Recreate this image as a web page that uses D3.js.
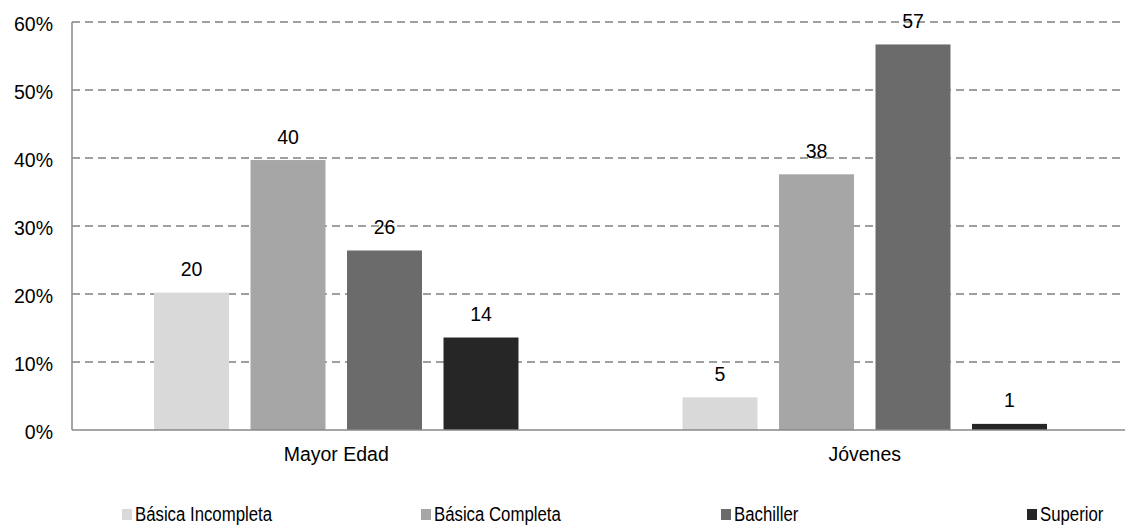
<!DOCTYPE html>
<html><head><meta charset="utf-8">
<script src="https://cdn.jsdelivr.net/npm/d3@7"></script>
<style>body{margin:0;background:#fff}svg{display:block}text{font-family:"Liberation Sans",Arial,sans-serif}</style>
</head><body><svg id="c" width="1125" height="526"></svg>
<script>
const categories = ["Mayor Edad", "Jóvenes"];
const series = ["Básica Incompleta", "Básica Completa", "Bachiller", "Superior"];
const values = {
  "Básica Incompleta": [20.2, 4.8],
  "Básica Completa": [39.7, 37.6],
  "Bachiller": [26.4, 56.7],
  "Superior": [13.6, 0.9]
};
const labels = {
  "Básica Incompleta": ["20", "5"],
  "Básica Completa": ["40", "38"],
  "Bachiller": ["26", "57"],
  "Superior": ["14", "1"]
};
const yTicks = [0, 10, 20, 30, 40, 50, 60];
const colors = ["#d9d9d9", "#a6a6a6", "#6b6b6b", "#262626"];

const FS = 19.5;
const svg = d3.select("#c");
const mLeft = 72, mRight = 1129, mTop = 22, mBottom = 430;
const y = d3.scaleLinear().domain([0, 60]).range([mBottom, mTop]);
const x0 = d3.scaleBand().domain(categories).range([mLeft, mRight]).padding(0);
const x1 = d3.scaleBand().domain(series).range([0, x0.bandwidth()]).paddingInner(0.223).paddingOuter(0.85);
const color = d3.scaleOrdinal().domain(series).range(colors);

// gridlines
svg.append("g").selectAll("line").data(yTicks.filter(d => d > 0)).join("line")
  .attr("x1", mLeft).attr("x2", mRight)
  .attr("y1", d => y(d)).attr("y2", d => y(d))
  .attr("stroke", "#808080").attr("stroke-width", 1.4).attr("stroke-dasharray", "8,5");

// y tick labels
svg.append("g").selectAll("text").data(yTicks).join("text")
  .attr("x", 53).attr("y", d => y(d) + 8.5)
  .attr("text-anchor", "end").attr("font-size", FS).attr("fill", "#000")
  .text(d => d + "%");

// bars
const g = svg.append("g");
categories.forEach((c, ci) => {
  series.forEach(s => {
    const v = values[s][ci];
    g.append("rect")
      .attr("x", x0(c) + x1(s)).attr("width", x1.bandwidth())
      .attr("y", y(v)).attr("height", y(0) - y(v))
      .attr("fill", color(s));
    g.append("text")
      .attr("x", x0(c) + x1(s) + x1.bandwidth() / 2)
      .attr("y", y(v) - 16.5)
      .attr("text-anchor", "middle").attr("font-size", FS).attr("fill", "#000")
      .text(labels[s][ci]);
  });
});

// axes lines
svg.append("line").attr("x1", mLeft).attr("x2", mLeft).attr("y1", mTop).attr("y2", mBottom)
  .attr("stroke", "#888").attr("stroke-width", 1.5);
svg.append("line").attr("x1", mLeft).attr("x2", mRight).attr("y1", mBottom).attr("y2", mBottom)
  .attr("stroke", "#888").attr("stroke-width", 1.5);

// category labels
svg.append("g").selectAll("text").data(categories).join("text")
  .attr("x", d => x0(d) + x0.bandwidth() / 2).attr("y", 461)
  .attr("text-anchor", "middle").attr("font-size", FS).attr("fill", "#000")
  .text(d => d);

// legend
const legX = [122, 421, 721, 1027];
const leg = svg.append("g").selectAll("g").data(series).join("g")
  .attr("transform", (d, i) => `translate(${legX[i]},0)`);
leg.append("rect").attr("x", 0).attr("y", 509).attr("width", 10).attr("height", 11)
  .attr("fill", d => color(d));
leg.append("text").attr("x", 13).attr("y", 521).attr("font-size", FS).attr("fill", "#000")
  .text(d => d)
  .each(function() {
    const w = this.getComputedTextLength();
    d3.select(this).attr("textLength", w * 0.86).attr("lengthAdjust", "spacingAndGlyphs");
  });
</script></body></html>
